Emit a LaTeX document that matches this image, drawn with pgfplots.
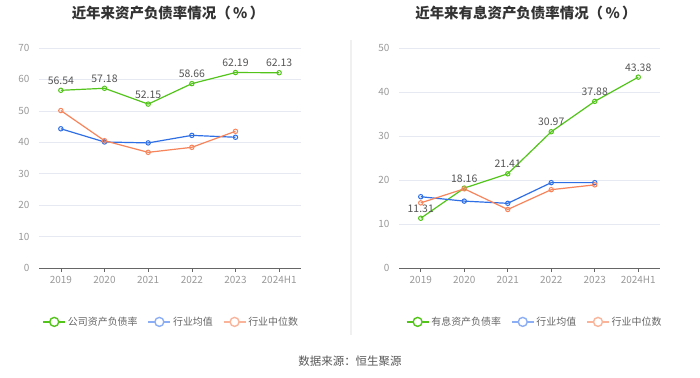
\documentclass[border=0pt]{standalone}
\usepackage{pgfplots}
\pgfplotsset{compat=1.18}
\usepackage{fontspec}
\setmainfont{Noto Sans CJK SC}
\definecolor{cgreen}{HTML}{52C41A}
\definecolor{cblue}{HTML}{2F6FE6}
\definecolor{corange}{HTML}{F7845A}
\definecolor{lblue}{HTML}{8CAEF5}
\definecolor{lorange}{HTML}{F9B49A}
\definecolor{gridc}{HTML}{E6E9F2}
\definecolor{tickc}{HTML}{999999}
\definecolor{labc}{HTML}{555555}
\pgfplotsset{
  common/.style={
    scale only axis, width=262bp, height=220bp,
    xmin=-0.5, xmax=5.5, ymin=0,
    xtick={0,1,2,3,4,5},
    xticklabels={2019,2020,2021,2022,2023,2024H1},
    axis x line*=bottom, axis y line*=left,
    separate axis lines,
    x axis line style={draw=black!60, line width=0.8pt},
    y axis line style={draw=none},
    xtick style={draw=black!60, line width=0.6pt},
    major tick length=4bp,
    tick align=outside,
    ymajorgrids, grid style={gridc, line width=0.6pt},
    ytick style={draw=none},
    tick label style={font=\fontsize{10}{11}\selectfont, text=tickc},
    /pgf/number format/assume math mode=true,
    yticklabel style={xshift=-2bp},
    xticklabel style={yshift=-1bp},
    legend columns=3,
    legend style={draw=none, fill=none, font=\fontsize{10}{11}\selectfont, text=black!60,
      /tikz/every even column/.append style={column sep=8bp}},
    legend image code/.code={
      \draw[#1, line width=1.4pt] (0bp,0) -- (22bp,0);
      \draw[#1, line width=1.4pt, fill=white] (11bp,0) circle (4.5bp);
    },
  },
  ser/.style={line width=1.2pt, mark=o, mark size=2.2bp, mark options={line width=1pt, fill=white}},
}
\begin{document}
\begin{tikzpicture}
\path[use as bounding box, fill=white] (0bp,0bp) rectangle (700bp,378bp);
\draw[black!6, line width=1.2pt] (351bp,43bp) -- (351bp,338bp);
\node[font=\fontsize{14.5}{16}\selectfont\bfseries, text=black!80] at (168bp,365bp) {近年来资产负债率情况（\,\%\,）};
\node[font=\fontsize{14.5}{16}\selectfont\bfseries, text=black!80] at (526bp,365bp) {近年来有息资产负债率情况（\,\%\,）};
\node[font=\fontsize{11.5}{13}\selectfont, text=black!65] at (350bp,17bp) {数据来源：恒生聚源};
\begin{axis}[common, at={(39bp,110bp)}, anchor=south west, ymax=70, ytick={0,10,...,70},
  legend style={at={(0.505,-0.245)}, anchor=center}]
\addplot[ser, cgreen, forget plot, nodes near coords, point meta=explicit symbolic,
  every node near coord/.append style={font=\fontsize{10.5}{12}\selectfont, text=labc, yshift=2bp}]
  coordinates {(0,56.54)[56.54] (1,57.18)[57.18] (2,52.15)[52.15] (3,58.66)[58.66] (4,62.19)[62.19] (5,62.13)[62.13]};
\addplot[ser, cblue, forget plot] coordinates {(0,44.3) (1,40.1) (2,39.8) (3,42.2) (4,41.6)};
\addplot[ser, corange, forget plot] coordinates {(0,50.1) (1,40.5) (2,36.8) (3,38.4) (4,43.5)};
\addlegendimage{cgreen}\addlegendentry{公司资产负债率}
\addlegendimage{lblue}\addlegendentry{行业均值}
\addlegendimage{lorange}\addlegendentry{行业中位数}
\end{axis}
\begin{axis}[common, at={(399bp,110bp)}, anchor=south west, width=261bp, ymax=50, ytick={0,10,...,50},
  legend style={at={(0.52,-0.245)}, anchor=center}]
\addplot[ser, cgreen, forget plot, nodes near coords, point meta=explicit symbolic,
  every node near coord/.append style={font=\fontsize{10.5}{12}\selectfont, text=labc, yshift=2bp}]
  coordinates {(0,11.31)[11.31] (1,18.16)[18.16] (2,21.41)[21.41] (3,30.97)[30.97] (4,37.88)[37.88] (5,43.38)[43.38]};
\addplot[ser, cblue, forget plot] coordinates {(0,16.2) (1,15.2) (2,14.7) (3,19.4) (4,19.4)};
\addplot[ser, corange, forget plot] coordinates {(0,14.8) (1,18.0) (2,13.3) (3,17.8) (4,18.9)};
\addlegendimage{cgreen}\addlegendentry{有息资产负债率}
\addlegendimage{lblue}\addlegendentry{行业均值}
\addlegendimage{lorange}\addlegendentry{行业中位数}
\end{axis}
\end{tikzpicture}
\end{document}
